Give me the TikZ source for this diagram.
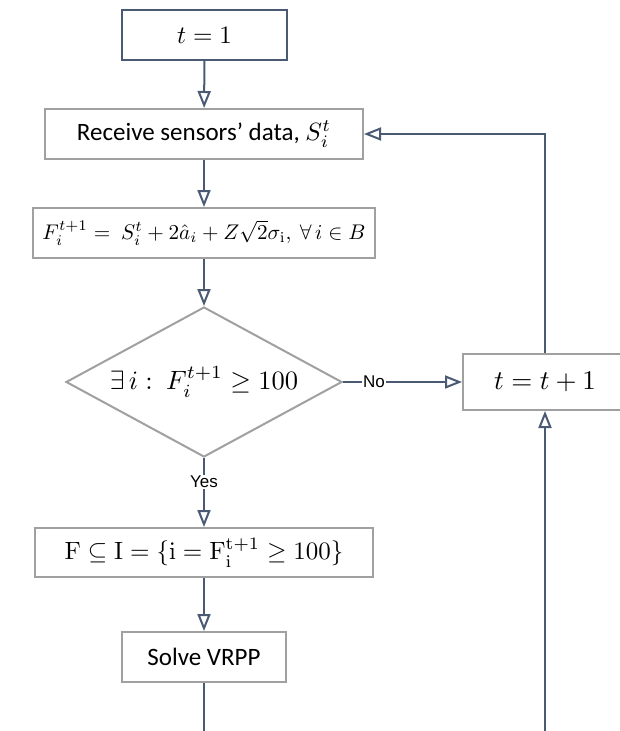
\documentclass[tikz,border=0pt]{standalone}
\usepackage{graphicx}
\usepackage[no-math]{fontspec}
\setmainfont{Carlito}
\newfontfamily\tagfont{Liberation Sans}
\usetikzlibrary{arrows.meta,shapes.geometric}

\definecolor{slate}{HTML}{4A5A75}
\definecolor{boxgray}{HTML}{A0A0A0}

% box texts are set at 10pt and enlarged, so text and formulas grow alike
\newcommand{\boxtext}[2][2.5]{\scalebox{#1}{#2}}

\tikzset{
  base/.style={font=\fontsize{10}{12}\selectfont, inner sep=0pt, align=center},
  procbox/.style={base, draw=boxgray, line width=2pt, fill=white},
  startbox/.style={base, draw=slate, line width=2pt, fill=white},
  decision/.style={base, diamond, draw=boxgray, line width=2pt, fill=white, aspect=1.84},
  flow/.style={draw=slate, line width=2pt,
    -{Triangle[open, length=17pt, width=13pt, line width=2pt]}},
  tag/.style={font=\tagfont\fontsize{17}{20}\selectfont, fill=white, inner sep=1pt, text=black}
}

\begin{document}
\begin{tikzpicture}[x=1pt, y=-1pt]
\useasboundingbox (0,0) rectangle (620,731);

% process steps
\node[startbox, minimum width=165pt, minimum height=50pt] (init) at (204.5,35)
  {\boxtext{$t = 1$}};
\node[procbox, minimum width=318pt, minimum height=50pt] (recv) at (204,134)
  {\boxtext{Receive sensors’ data, $S_i^t$}};
\node[procbox, minimum width=342pt, minimum height=50pt] (forecast) at (204,233)
  {\boxtext[2.12]{$F_i^{t+1} =\ S_i^t + 2\hat{a}_i + Z\sqrt{2}\sigma_{\mathrm{i}},\ \forall\, i \in B$}};
\node[decision, minimum width=276pt, minimum height=150pt] (check) at (204,382)
  {\boxtext[2.65]{$\exists\, i :\ F_i^{t+1} \geq 100$}};
\node[procbox, minimum width=164pt, minimum height=56pt] (incr) at (545,382)
  {\boxtext[2.7]{$t = t + 1$}};
\node[procbox, minimum width=338pt, minimum height=49pt] (fset) at (204,552.5)
  {\boxtext{$\mathrm{F} \subseteq \mathrm{I} = \{\mathrm{i} = \mathrm{F}_{\mathrm{i}}^{\mathrm{t+1}} \geq 100\}$}};
\node[procbox, minimum width=164pt, minimum height=50pt] (solve) at (204,657)
  {\boxtext{Solve VRPP}};

% return path below the last step
\coordinate (loopL) at (204,731.6);
\coordinate (loopR) at (545,731.6);

% connectors
\draw[flow] (init) -- (recv);
\draw[flow] (recv) -- (forecast);
\draw[flow] (forecast) -- (check);
\draw[flow] (check.south) -- node[tag, pos=0.35] {Yes} (fset.north);
\draw[flow] (check.east) -- node[tag, pos=0.26] {No} (incr.west);
\draw[flow] (fset) -- (solve);
\draw[flow] (incr.north) |- (recv.east);
\draw[flow] (solve.south) -- (loopL) -- (loopR) -- (incr.south);
\end{tikzpicture}
\end{document}
